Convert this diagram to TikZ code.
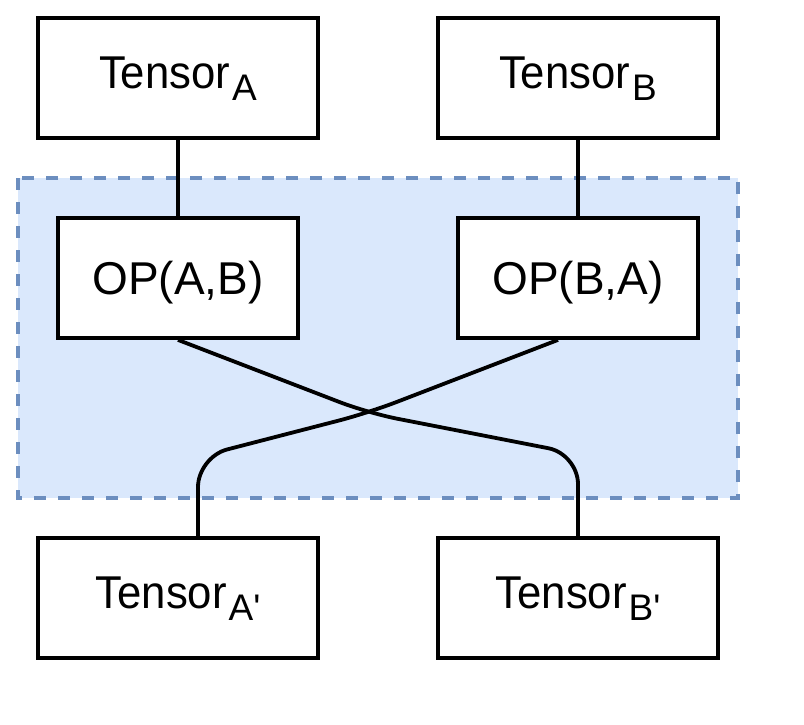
\documentclass[tikz,border=0pt]{standalone}
\usepackage{fontspec}
\setmainfont{Liberation Sans}
\newfontfamily\tfont[FakeStretch=0.95]{Liberation Sans}
\newfontfamily\subfnt{Liberation Sans}
\newfontfamily\opfont{Liberation Sans}
\usetikzlibrary{calc}
\definecolor{regfill}{HTML}{DAE8FC}
\definecolor{regdraw}{HTML}{6C8EBF}
\newcommand\tens[1]{{\tfont\fontsize{46}{50}\selectfont Tensor}\hspace{2pt}\raisebox{-12pt}{\subfnt\fontsize{37}{40}\selectfont #1}}
\tikzset{
  tensbox/.style={draw, line width=3.8pt, fill=white, minimum width=280pt, minimum height=120pt, inner sep=0pt, text height=35pt, text depth=15pt},
  opbox/.style={draw, line width=3.8pt, fill=white, minimum width=240pt, minimum height=120pt, inner sep=0pt, text height=32pt, text depth=0pt, font=\opfont\fontsize{46}{48}\selectfont},
  region/.style={draw=regdraw, fill=regfill, line width=3.5pt, dash pattern=on 12pt off 12pt},
  wire/.style={line width=3.8pt, draw=black},
  xwire/.style={wire, rounded corners=30pt}
}
\begin{document}
\begin{tikzpicture}[x=1pt, y=-1pt]
\useasboundingbox (0,0) rectangle (804,724);
\draw[region] (18,178) rectangle (738,498);
\node[tensbox] (ta) at (178,78) {\tens{A}};
\node[tensbox] (tb) at (578,78) {\tens{B}};
\node[opbox] (opab) at (178,278) {OP(A,B)};
\node[opbox] (opba) at (578,278) {OP(B,A)};
\node[tensbox] (tap) at (178,598) {\tens{A\textquotesingle}};
\node[tensbox] (tbp) at (578,598) {\tens{B\textquotesingle}};
\coordinate (cross) at (368,413);
\coordinate (ry) at (0,454);
\coordinate (ly) at (0,457);
\coordinate (apin) at ($(tap.north)+(20,0)$);
\coordinate (baout) at ($(opba.south)+(-20,0)$);
\draw[wire] (ta.south) -- (opab.north);
\draw[wire] (tb.south) -- (opba.north);
\draw[xwire] (opab.south) -- (cross) -- (tbp.north |- ry) -- (tbp.north);
\draw[xwire] (baout) -- (cross) -- (apin |- ly) -- (apin);
\end{tikzpicture}
\end{document}
